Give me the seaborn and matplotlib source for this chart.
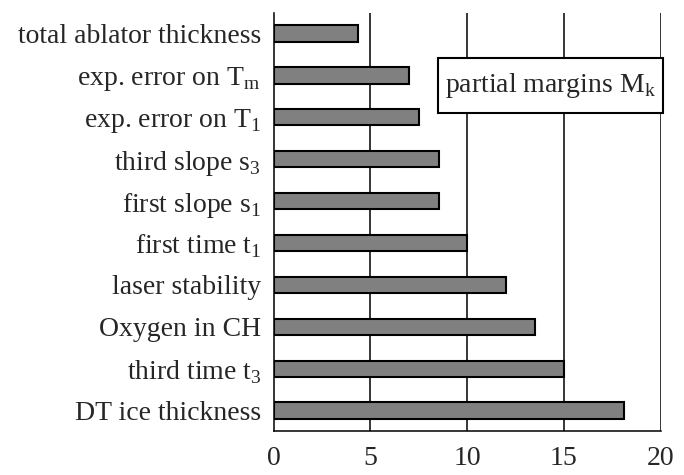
import pandas as pd
import seaborn as sns
import matplotlib.pyplot as plt
from matplotlib.patches import Rectangle

# margins
labels = [
    "total ablator thickness",
    "exp. error on T$_\\mathrm{m}$",
    "exp. error on T$_\\mathrm{1}$",
    "third slope s$_\\mathrm{3}$",
    "first slope s$_\\mathrm{1}$",
    "first time t$_\\mathrm{1}$",
    "laser stability",
    "Oxygen in CH",
    "third time t$_\\mathrm{3}$",
    "DT ice thickness",
]
margins = [4.35, 7.0, 7.5, 8.55, 8.55, 10.0, 12.0, 13.5, 15.0, 18.1]
xticks = [0, 5, 10, 15, 20]

sns.set_style("white")
plt.rcParams["font.family"] = ["Liberation Serif", "DejaVu Serif"]
plt.rcParams["mathtext.fontset"] = "custom"
plt.rcParams["mathtext.rm"] = "Liberation Serif"

df = pd.DataFrame({"label": labels, "margin": margins})

fig = plt.figure(figsize=(6.84, 4.75), dpi=100)
ax = fig.add_axes([0.400, 0.0926, 0.566, 0.880])

sns.barplot(data=df, x="margin", y="label", orient="h", color="#808080",
            saturation=1, width=0.4, edgecolor="black", linewidth=1.5, ax=ax)

for x in xticks[1:]:
    ax.axvline(x, color="black", lw=1.1, zorder=0)

ax.set_xlim(0, 20)
ax.set_ylim(9.48, -0.48)
ax.set_xticks(xticks)
ax.set_xlabel("")
ax.set_ylabel("")
ax.tick_params(axis="x", length=0, pad=11, labelsize=20)
ax.tick_params(axis="y", length=0, pad=9, labelsize=20)

for side in ["top", "right"]:
    ax.spines[side].set_visible(False)
for side in ["left", "bottom"]:
    ax.spines[side].set_color("black")
    ax.spines[side].set_linewidth(1.1)

ax.add_patch(Rectangle((0.425, 0.761), 0.581, 0.131, transform=ax.transAxes,
                       facecolor="white", edgecolor="black", lw=1.5,
                       clip_on=False, zorder=5))
ax.text(0.715, 0.827, "partial margins M$_\\mathrm{k}$", transform=ax.transAxes,
        ha="center", va="center", fontsize=20, zorder=6)

fig.savefig("out.png", dpi=100)
